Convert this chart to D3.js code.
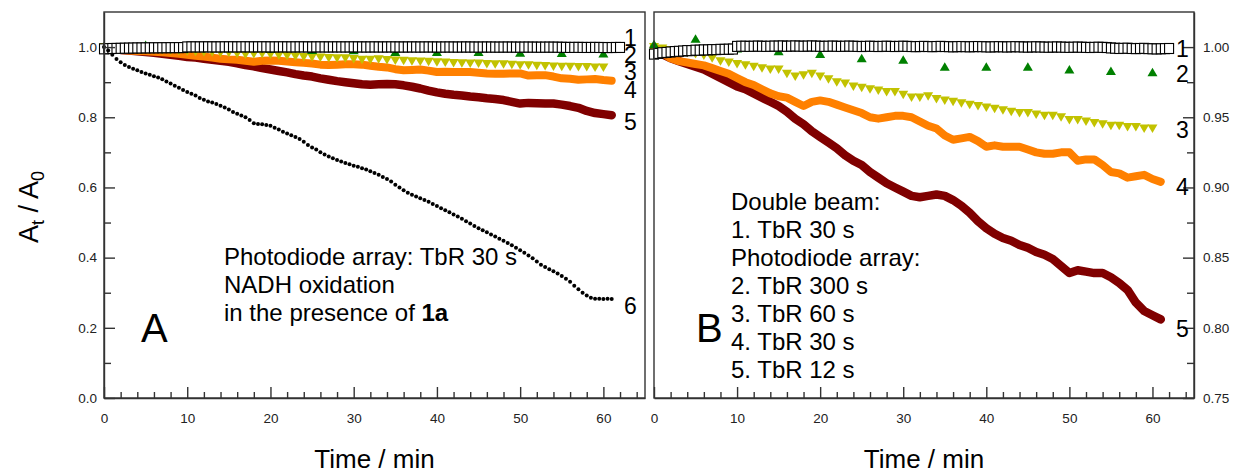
<!DOCTYPE html>
<html>
<head>
<meta charset="utf-8">
<script src="https://cdn.jsdelivr.net/npm/d3@7"></script>
<style>
  body { margin: 0; background: #fff; }
  svg text { font-family: "Liberation Sans", Arial, sans-serif; fill: #000; }
  .axis text { font-size: 13.5px; fill: #222; }
  .axis line, .axis path { stroke: #333; stroke-width: 1.4; }
  .frame { fill: none; stroke: #333; stroke-width: 1.4; }
</style>
</head>
<body>
<div id="chart"></div>
<script>
// time grids (min)
var tSquares = d3.range(0, 62.5, 0.5);
var tGreen = d3.range(0, 65, 5);
var tYellow = d3.range(0, 61, 1);
var tLines = d3.range(0, 62, 1);
var tDots = d3.range(0, 61.5, 0.5);

// 1: double beam, TbR 30 s (open squares)
var s1 = [
  0.9950, 0.9955, 0.9960, 0.9962, 0.9965, 0.9968, 0.9970, 0.9972, 0.9975, 0.9975,
  0.9978, 0.9978, 0.9980, 0.9980, 0.9982, 0.9982, 0.9984, 0.9984, 0.9985, 0.9986,
  1.0005, 1.0006, 1.0006, 1.0005, 1.0006, 1.0007, 1.0006, 1.0005, 1.0006, 1.0007,
  1.0007, 1.0008, 1.0006, 1.0007, 1.0008, 1.0007, 1.0006, 1.0007, 1.0008, 1.0007,
  1.0006, 1.0005, 1.0006, 1.0007, 1.0006, 1.0005, 1.0006, 1.0007, 1.0006, 1.0005,
  1.0004, 1.0005, 1.0006, 1.0005, 1.0004, 1.0005, 1.0006, 1.0005, 1.0004, 1.0005,
  1.0006, 1.0005, 1.0004, 1.0003, 1.0004, 1.0005, 1.0004, 1.0003, 1.0004, 1.0005,
  1.0004, 1.0003, 1.0002, 1.0003, 1.0004, 1.0003, 1.0002, 1.0003, 1.0004, 1.0003,
  1.0002, 1.0001, 1.0002, 1.0003, 1.0002, 1.0001, 1.0002, 1.0003, 1.0002, 1.0001,
  1.0000, 1.0001, 1.0002, 1.0001, 1.0000, 0.9999, 1.0000, 1.0001, 1.0000, 0.9999,
  0.9998, 0.9999, 1.0000, 0.9999, 0.9998, 0.9997, 0.9998, 0.9999, 0.9998, 0.9997,
  0.9994, 0.9992, 0.9990, 0.9991, 0.9992, 0.9990, 0.9989, 0.9990, 0.9991, 0.9989,
  0.9988, 0.9987, 0.9988, 0.9989, 0.9990
];
// 2: photodiode array, TbR 300 s (green triangles)
var s2 = [1.002, 1.006, 0.999, 0.997, 0.995, 0.992, 0.991, 0.986, 0.986, 0.986, 0.984, 0.983, 0.982];
// 3: TbR 60 s (yellow down triangles)
var s3 = [
  1.000, 0.999, 0.998, 0.997, 0.996, 0.995, 0.994, 0.992, 0.990, 0.989,
  0.988, 0.987, 0.986, 0.985, 0.984, 0.984, 0.981, 0.979, 0.980, 0.981,
  0.979, 0.977, 0.975, 0.974, 0.972, 0.971, 0.970, 0.969, 0.968, 0.968,
  0.966, 0.964, 0.964, 0.965, 0.963, 0.962, 0.961, 0.960, 0.959, 0.958,
  0.957, 0.956, 0.955, 0.954, 0.953, 0.953, 0.952, 0.951, 0.951, 0.950,
  0.948, 0.948, 0.947, 0.946, 0.945, 0.944, 0.944, 0.943, 0.943, 0.942,
  0.942
];
// 4: TbR 30 s (orange)
var s4 = [
  1.000, 0.996, 0.992, 0.990, 0.989, 0.988, 0.987, 0.985, 0.983, 0.981,
  0.978, 0.975, 0.973, 0.970, 0.967, 0.965, 0.964, 0.961, 0.958, 0.961,
  0.962, 0.961, 0.959, 0.957, 0.955, 0.953, 0.950, 0.949, 0.950, 0.951,
  0.951, 0.950, 0.947, 0.944, 0.942, 0.937, 0.934, 0.935, 0.936, 0.933,
  0.929, 0.930, 0.929, 0.929, 0.929, 0.927, 0.925, 0.924, 0.924, 0.925,
  0.925, 0.919, 0.920, 0.920, 0.916, 0.911, 0.910, 0.907, 0.908, 0.909,
  0.906, 0.904
];
// 5: TbR 12 s (dark red)
var s5 = [
  1.000, 0.995, 0.992, 0.990, 0.988, 0.986, 0.984, 0.981, 0.978, 0.975,
  0.972, 0.970, 0.967, 0.964, 0.961, 0.958, 0.954, 0.949, 0.945, 0.940,
  0.936, 0.932, 0.928, 0.923, 0.919, 0.916, 0.911, 0.907, 0.903, 0.900,
  0.897, 0.894, 0.893, 0.894, 0.895, 0.894, 0.891, 0.887, 0.882, 0.876,
  0.871, 0.867, 0.864, 0.862, 0.859, 0.857, 0.854, 0.852, 0.849, 0.844,
  0.839, 0.841, 0.840, 0.839, 0.839, 0.836, 0.832, 0.827, 0.818, 0.812,
  0.809, 0.806
];
// 6: NADH oxidation with 1a (black dots, panel A only)
var s6 = [
  1.000, 0.990, 0.978, 0.966, 0.957, 0.949, 0.943, 0.938, 0.934, 0.929,
  0.925, 0.921, 0.917, 0.913, 0.908, 0.902, 0.896, 0.890, 0.884, 0.878,
  0.872, 0.867, 0.862, 0.855, 0.850, 0.845, 0.842, 0.838, 0.833, 0.828,
  0.822, 0.815, 0.810, 0.805, 0.800, 0.792, 0.783, 0.781, 0.780, 0.778,
  0.776, 0.770, 0.765, 0.759, 0.754, 0.749, 0.744, 0.738, 0.730, 0.721,
  0.714, 0.708, 0.700, 0.694, 0.688, 0.683, 0.678, 0.674, 0.670, 0.666,
  0.662, 0.659, 0.655, 0.651, 0.646, 0.641, 0.636, 0.630, 0.624, 0.617,
  0.608, 0.600, 0.592, 0.585, 0.579, 0.574, 0.569, 0.564, 0.559, 0.553,
  0.547, 0.541, 0.535, 0.529, 0.523, 0.517, 0.511, 0.504, 0.497, 0.490,
  0.484, 0.478, 0.472, 0.466, 0.460, 0.454, 0.448, 0.442, 0.435, 0.428,
  0.421, 0.414, 0.406, 0.398, 0.389, 0.380, 0.373, 0.367, 0.361, 0.355,
  0.348, 0.340, 0.331, 0.320, 0.310, 0.300, 0.292, 0.286, 0.283, 0.283,
  0.282, 0.283, 0.282
];

// ticks
var xMajor = [0, 10, 20, 30, 40, 50, 60];
var xMinor = [2, 4, 6, 8, 12, 14, 16, 18, 22, 24, 26, 28, 32, 34, 36, 38, 42, 44, 46, 48, 52, 54, 56, 58, 62, 64];
var yAMajor = [0, 0.2, 0.4, 0.6, 0.8, 1.0];
var yAMinor = [0.1, 0.3, 0.5, 0.7, 0.9];
var yBMajor = [0.75, 0.80, 0.85, 0.90, 0.95, 1.00];
var yBMinor = [0.775, 0.825, 0.875, 0.925, 0.975];

var svg = d3.select("#chart").append("svg")
    .attr("width", 1237)
    .attr("height", 474);

var xA = d3.scaleLinear().domain([0, 65]).range([104, 645]);
var yA = d3.scaleLinear().domain([0, 1.1]).range([398, 12]);
var xB = d3.scaleLinear().domain([0, 65]).range([654, 1194]);
var yB = d3.scaleLinear().domain([0.75, 1.025]).range([398, 12]);

function drawSeries(g, x, y) {
  var line = d3.line()
    .x(function(d) { return x(d[0]); })
    .y(function(d) { return y(d[1]); });

  // thick traces: 5 under 4
  g.append("path")
    .datum(d3.zip(tLines, s5))
    .attr("d", line)
    .attr("fill", "none").attr("stroke", "#800000")
    .attr("stroke-width", 8.5).attr("stroke-linecap", "round").attr("stroke-linejoin", "round");
  g.append("path")
    .datum(d3.zip(tLines, s4))
    .attr("d", line)
    .attr("fill", "none").attr("stroke", "#ff8000")
    .attr("stroke-width", 8).attr("stroke-linecap", "round").attr("stroke-linejoin", "round");

  g.selectAll(".tri-down")
    .data(d3.zip(tYellow, s3))
    .enter().append("path")
      .attr("class", "tri-down")
      .attr("d", "M-5,-4L5,-4L0,4.5Z")
      .attr("fill", "#c2c200")
      .attr("transform", function(d) { return "translate(" + x(d[0]) + "," + y(d[1]) + ")"; });

  g.selectAll(".tri-up")
    .data(d3.zip(tGreen, s2))
    .enter().append("path")
      .attr("class", "tri-up")
      .attr("d", "M0,-4.5L5,4L-5,4Z")
      .attr("fill", "#008000")
      .attr("transform", function(d) { return "translate(" + x(d[0]) + "," + y(d[1]) + ")"; });

  g.selectAll(".sq")
    .data(d3.zip(tSquares, s1))
    .enter().append("rect")
      .attr("class", "sq")
      .attr("x", function(d) { return x(d[0]) - 4.5; })
      .attr("y", function(d) { return y(d[1]) - 5; })
      .attr("width", 9).attr("height", 10)
      .attr("fill", "#fff").attr("stroke", "#000").attr("stroke-width", 1.1);
}

function drawAxes(x, y, yMajor, yMinor, side, fmt) {
  svg.append("g").attr("class", "axis")
    .attr("transform", "translate(0,398)")
    .call(d3.axisBottom(x).tickValues(xMajor).tickSize(-11).tickSizeOuter(0).tickPadding(15).tickFormat(d3.format("d")));
  svg.append("g").attr("class", "axis")
    .attr("transform", "translate(0,398)")
    .call(d3.axisBottom(x).tickValues(xMinor).tickSize(-6).tickSizeOuter(0).tickFormat(""))
    .select(".domain").remove();

  var ax = side == "left" ? d3.axisLeft(y) : d3.axisRight(y);
  var x0 = side == "left" ? x.range()[0] : x.range()[1];
  svg.append("g").attr("class", "axis")
    .attr("transform", "translate(" + x0 + ",0)")
    .call(ax.tickValues(yMajor).tickSize(-11).tickSizeOuter(0).tickPadding(side == "left" ? 7 : 9).tickFormat(d3.format(fmt)));
  var ax2 = side == "left" ? d3.axisLeft(y) : d3.axisRight(y);
  svg.append("g").attr("class", "axis")
    .attr("transform", "translate(" + x0 + ",0)")
    .call(ax2.tickValues(yMinor).tickSize(-7).tickFormat(""))
    .select(".domain").remove();

  svg.append("rect").attr("class", "frame")
    .attr("x", x.range()[0]).attr("y", y.range()[1])
    .attr("width", x.range()[1] - x.range()[0])
    .attr("height", y.range()[0] - y.range()[1]);
}

// Panel A
var gA = svg.append("g");
drawSeries(gA, xA, yA);
gA.selectAll(".dot")
  .data(d3.zip(tDots, s6))
  .enter().append("circle")
    .attr("class", "dot")
    .attr("cx", function(d) { return xA(d[0]); })
    .attr("cy", function(d) { return yA(d[1]); })
    .attr("r", 2)
    .attr("fill", "#000");
drawAxes(xA, yA, yAMajor, yAMinor, "left", ".1f");

// Panel B
var gB = svg.append("g");
drawSeries(gB, xB, yB);
drawAxes(xB, yB, yBMajor, yBMinor, "right", ".2f");

// axis titles
[xA, xB].forEach(function(x) {
  svg.append("text")
    .attr("x", (x.range()[0] + x.range()[1]) / 2)
    .attr("y", 468)
    .attr("text-anchor", "middle")
    .style("font-size", "26px")
    .text("Time / min");
});

var yl = svg.append("text")
  .attr("transform", "translate(38,207) rotate(-90)")
  .attr("text-anchor", "middle")
  .style("font-size", "27px");
yl.append("tspan").text("A");
yl.append("tspan").attr("dy", 6).style("font-size", "18px").text("t");
yl.append("tspan").attr("dy", -6).text(" / A");
yl.append("tspan").attr("dy", 6).style("font-size", "18px").text("0");

// series numbers
var labelsA = [["1", 46], ["2", 63], ["3", 80], ["4", 98], ["5", 130], ["6", 314]];
var labelsB = [["1", 57], ["2", 82], ["3", 138], ["4", 195], ["5", 337]];
labelsA.forEach(function(l) {
  svg.append("text").attr("x", 624).attr("y", l[1]).style("font-size", "23px").text(l[0]);
});
labelsB.forEach(function(l) {
  svg.append("text").attr("x", 1176).attr("y", l[1]).style("font-size", "23px").text(l[0]);
});

// panel letters
svg.append("text").attr("x", 141).attr("y", 342).style("font-size", "40px").text("A");
svg.append("text").attr("x", 696).attr("y", 342).style("font-size", "40px").text("B");

// notes
var noteA = ["Photodiode array: TbR 30 s", "NADH oxidation"];
noteA.forEach(function(s, i) {
  svg.append("text").attr("x", 224).attr("y", 265 + i * 28).style("font-size", "24px").text(s);
});
var n3 = svg.append("text").attr("x", 224).attr("y", 321).style("font-size", "24px");
n3.append("tspan").text("in the presence of ");
n3.append("tspan").style("font-weight", "bold").text("1a");

var noteB = ["Double beam:", "1. TbR 30 s", "Photodiode array:", "2. TbR 300 s", "3. TbR 60 s", "4. TbR 30 s", "5. TbR 12 s"];
noteB.forEach(function(s, i) {
  svg.append("text").attr("x", 731).attr("y", 210 + i * 28).style("font-size", "24px").text(s);
});
</script>
</body>
</html>
